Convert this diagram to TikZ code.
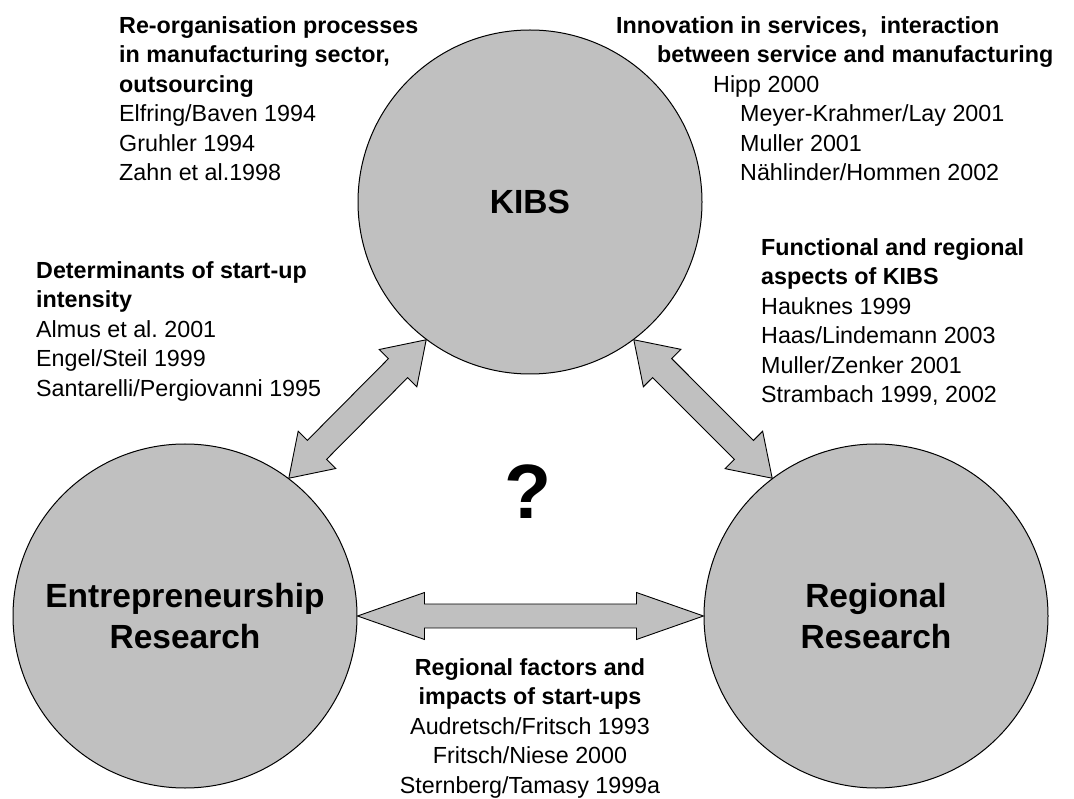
\documentclass[tikz,border=0pt]{standalone}
\usepackage{fontspec}
\setmainfont{Liberation Sans}
\usepackage{xcolor}
\usetikzlibrary{calc}

\definecolor{bubblegray}{HTML}{C0C0C0}

% block arrow with two heads: tip, tip, head length, head half width, shaft half width
\newcommand{\bothways}[5]{%
  \pgfmathsetmacro{\headlen}{veclen(#3,#4)}%
  \pgfmathsetmacro{\headang}{atan(#4/#3)}%
  \pgfmathsetmacro{\shaftlen}{veclen(#3,#5)}%
  \pgfmathsetmacro{\shaftang}{atan(#5/#3)}%
  \draw[arrowbody] (#1)
    -- ($(#1)!\headlen pt!\headang:(#2)$) -- ($(#1)!\shaftlen pt!\shaftang:(#2)$)
    -- ($(#2)!\shaftlen pt!-\shaftang:(#1)$) -- ($(#2)!\headlen pt!-\headang:(#1)$)
    -- (#2)
    -- ($(#2)!\headlen pt!\headang:(#1)$) -- ($(#2)!\shaftlen pt!\shaftang:(#1)$)
    -- ($(#1)!\shaftlen pt!-\shaftang:(#2)$) -- ($(#1)!\headlen pt!-\headang:(#2)$)
    -- cycle;
}

\begin{document}
\frenchspacing
\begin{tikzpicture}[x=1pt, y=-1pt,
    bubble/.style={circle, draw, line width=1pt, fill=bubblegray, minimum size=344pt,
      inner sep=0pt, align=center, font={\fontsize{33.5}{41}\selectfont\bfseries}},
    arrowbody/.style={draw, fill=bubblegray, line width=0.9pt, line join=miter},
    refs/.style={inner sep=0pt, anchor=north west, align=left,
      font={\fontsize{23.3}{29.5}\selectfont}}]
  \useasboundingbox (0,0) rectangle (1074,799);

  % Research fields
  \node[bubble] (kibs) at (530,202) {KIBS};
  \node[bubble] (entr) at (185,616) {Entrepreneurship\\Research};
  \node[bubble] (regio) at (876,616) {Regional\\Research};

  % Links
  \bothways{kibs.-127}{entr.53}{40}{26.5}{13.5}
  \bothways{kibs.-53}{regio.127}{40}{26.5}{13.5}
  \bothways{entr.0}{regio.180}{67}{23.5}{12}

  \node[font={\fontsize{77}{77}\selectfont\bfseries}, anchor=base] (quest) at (528,518) {?};

  % Literature
  \node[refs] (reorg) at (119,16) {\textbf{Re-organisation processes}\\
    \textbf{in manufacturing sector,}\\
    \textbf{outsourcing}\\
    Elfring/Baven 1994\\
    Gruhler 1994\\
    Zahn et al.1998};
  \node[refs] (innov) at (616,16) {\textbf{Innovation in services,\ \ interaction}\\
    \hspace*{41pt}\textbf{between service and manufacturing}\\
    \hspace*{97pt}Hipp 2000\\
    \hspace*{124pt}Meyer-Krahmer/Lay 2001\\
    \hspace*{124pt}Muller 2001\\
    \hspace*{124pt}Nählinder/Hommen 2002};
  \node[refs] (determ) at (36,261) {\textbf{Determinants of start-up}\\
    \textbf{intensity}\\
    Almus et al. 2001\\
    Engel/Steil 1999\\
    Santarelli/Pergiovanni 1995};
  \node[refs] (funct) at (761,238) {\textbf{Functional and regional}\\
    \textbf{aspects of KIBS}\\
    Hauknes 1999\\
    Haas/Lindemann 2003\\
    Muller/Zenker 2001\\
    Strambach 1999, 2002};
  \node[refs, anchor=north, align=center] (impact) at (530,658) {\textbf{Regional factors and}\\
    \textbf{impacts of start-ups}\\
    Audretsch/Fritsch 1993\\
    Fritsch/Niese 2000\\
    Sternberg/Tamasy 1999a};
\end{tikzpicture}
\end{document}
